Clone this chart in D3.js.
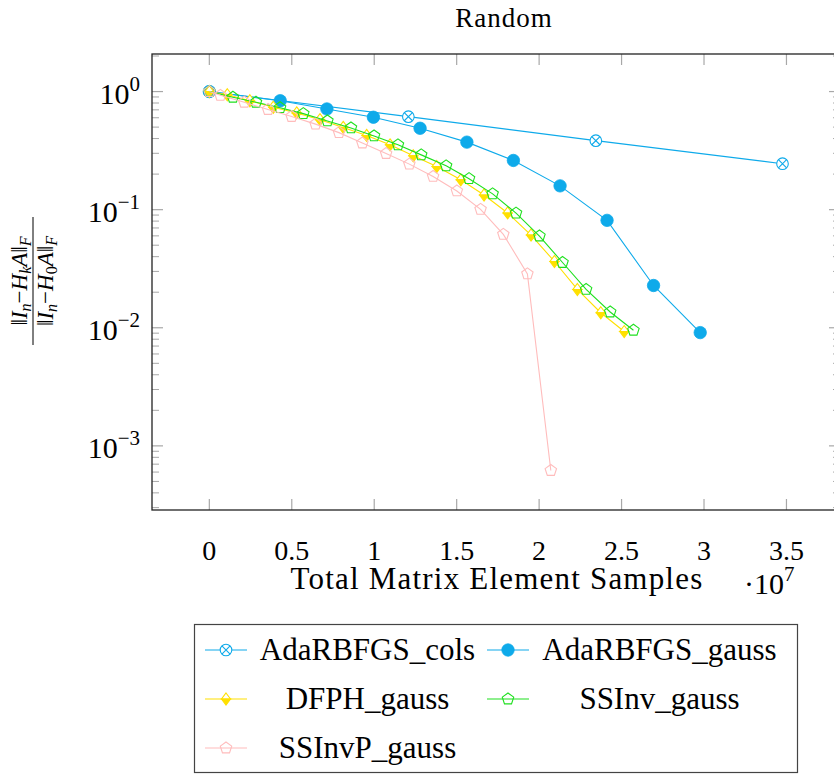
<!DOCTYPE html>
<html><head><meta charset="utf-8">
<script src="https://cdn.jsdelivr.net/npm/d3@7"></script>
<style>
body{margin:0;background:#fff}
svg{display:block}
text{font-family:'Liberation Serif','Times New Roman',serif;fill:#000}
</style>
</head><body>
<svg id="chart" width="834" height="775"></svg>
<script>
// ---------- data ----------
const chartTitle = "Random";
const xAxisLabel = "Total Matrix Element Samples";
const xTickValues = [0, 0.5, 1, 1.5, 2, 2.5, 3, 3.5];
const xTickLabels = ["0", "0.5", "1", "1.5", "2", "2.5", "3", "3.5"];
const yTickExponents = [0, -1, -2, -3];
const seriesNames = ["AdaRBFGS_cols", "AdaRBFGS_gauss", "DFPH_gauss", "SSInv_gauss", "SSInvP_gauss"];

const adaColsX = [0, 1.207, 2.344, 3.476];
const adaColsY = [1.0, 0.613, 0.384, 0.245];

const adaGaussX = [0, 0.430, 0.713, 0.995, 1.278, 1.562, 1.844, 2.127, 2.412, 2.694, 2.977];
const adaGaussY = [1.0, 0.836, 0.712, 0.606, 0.489, 0.373, 0.261, 0.159, 0.0812, 0.0228, 0.0091];

const dfphX = [0, 0.109, 0.246, 0.388, 0.530, 0.671, 0.812, 0.954, 1.096, 1.237, 1.379, 1.525, 1.666, 1.809, 1.951, 2.093, 2.232, 2.374, 2.516];
const dfphY = [1.0, 0.94, 0.836, 0.736, 0.659, 0.578, 0.497, 0.425, 0.354, 0.286, 0.232, 0.179, 0.133, 0.0938, 0.0610, 0.0364, 0.0211, 0.0134, 0.00929];

const ssinvX = [0, 0.143, 0.283, 0.429, 0.570, 0.716, 0.859, 0.999, 1.144, 1.285, 1.436, 1.575, 1.718, 1.860, 2.002, 2.142, 2.285, 2.431, 2.572];
const ssinvY = [1.0, 0.894, 0.811, 0.730, 0.650, 0.564, 0.492, 0.421, 0.354, 0.291, 0.235, 0.183, 0.136, 0.0934, 0.0598, 0.0357, 0.0211, 0.0136, 0.00953];

const ssinvpX = [0, 0.067, 0.212, 0.356, 0.499, 0.644, 0.786, 0.928, 1.072, 1.213, 1.357, 1.501, 1.645, 1.783, 1.929, 2.071];
const ssinvpY = [1.0, 0.929, 0.812, 0.705, 0.615, 0.530, 0.449, 0.367, 0.299, 0.243, 0.191, 0.144, 0.1006, 0.0618, 0.0286, 0.000619];

// ---------- styling ----------
const colors = ["#0eaaea", "#0eaaea", "#ffe000", "#1ee01e", "#ffbcbc"];
const markers = ["otimes", "dot", "halfdiamond", "pentagon", "pentagon"];

const series = [
  {x: adaColsX, y: adaColsY},
  {x: adaGaussX, y: adaGaussY},
  {x: dfphX, y: dfphY},
  {x: ssinvX, y: ssinvY},
  {x: ssinvpX, y: ssinvpY}
].map((s, i) => ({name: seriesNames[i], color: colors[i], marker: markers[i],
  pts: s.x.map((v, j) => ({x: v, y: s.y[j]}))}));

const svg = d3.select("#chart");
const box = {left: 152, right: 840, top: 54, bottom: 510};

const x = d3.scaleLinear().domain([-0.3477, 3.8247]).range([box.left, box.right]);
const y = d3.scaleLog().domain([Math.pow(10, -3.543), Math.pow(10, 0.318)]).range([box.bottom, box.top]);

// ---------- ticks ----------
const tickColor = "#a8a8a8";
const gT = svg.append("g");
const majorLen = 11, minorLen = 7;
const [ymin, ymax] = y.domain();
const minorVals = [];
for (let e = -4; e <= 0; e++) for (let m = 2; m <= 9; m++) {
  const v = m * Math.pow(10, e);
  if (v >= ymin && v <= ymax) minorVals.push(v);
}
minorVals.forEach(v => {
  gT.append("line").attr("x1", box.left).attr("x2", box.left + minorLen).attr("y1", y(v)).attr("y2", y(v)).attr("stroke", tickColor).attr("stroke-width", 1);
  gT.append("line").attr("x1", box.right).attr("x2", box.right - minorLen).attr("y1", y(v)).attr("y2", y(v)).attr("stroke", tickColor).attr("stroke-width", 1);
});
yTickExponents.forEach(e => {
  const v = Math.pow(10, e);
  gT.append("line").attr("x1", box.left).attr("x2", box.left + majorLen).attr("y1", y(v)).attr("y2", y(v)).attr("stroke", tickColor).attr("stroke-width", 1.2);
  gT.append("line").attr("x1", box.right).attr("x2", box.right - majorLen).attr("y1", y(v)).attr("y2", y(v)).attr("stroke", tickColor).attr("stroke-width", 1.2);
  const t = svg.append("text").attr("x", 140).attr("y", y(v) + 12).attr("text-anchor", "end").style("font-size", "30px");
  t.append("tspan").text("10");
  t.append("tspan").attr("dy", -13).style("font-size", "21px").text(e === 0 ? "0" : "\u2212" + Math.abs(e));
});
xTickValues.forEach((v, i) => {
  gT.append("line").attr("x1", x(v)).attr("x2", x(v)).attr("y1", box.bottom).attr("y2", box.bottom - majorLen).attr("stroke", tickColor).attr("stroke-width", 1.2);
  gT.append("line").attr("x1", x(v)).attr("x2", x(v)).attr("y1", box.top).attr("y2", box.top + majorLen).attr("stroke", tickColor).attr("stroke-width", 1.2);
  svg.append("text").attr("x", x(v)).attr("y", 560).attr("text-anchor", "middle").style("font-size", "28px").text(xTickLabels[i]);
});

// ---------- lines & markers ----------
const line = d3.line().x(d => x(d.x)).y(d => y(d.y));
const gData = svg.append("g");

function drawMarker(g, type, color, cx, cy) {
  if (type === "otimes") {
    const r = 5.8, k = r * Math.SQRT1_2;
    g.append("circle").attr("cx", cx).attr("cy", cy).attr("r", r).attr("fill", "#fff").attr("stroke", color).attr("stroke-width", 1.1);
    g.append("path").attr("d", `M${cx - k},${cy - k}L${cx + k},${cy + k}M${cx - k},${cy + k}L${cx + k},${cy - k}`).attr("stroke", color).attr("stroke-width", 1.1);
  } else if (type === "dot") {
    g.append("circle").attr("cx", cx).attr("cy", cy).attr("r", 6.2).attr("fill", color).attr("stroke", color).attr("stroke-width", 0.8);
  } else if (type === "halfdiamond") {
    const w = 4.5, h = 6;
    g.append("path").attr("d", `M${cx},${cy - h}L${cx + w},${cy}L${cx - w},${cy}Z`).attr("fill", "#fff").attr("stroke", color).attr("stroke-width", 1.1);
    g.append("path").attr("d", `M${cx - w},${cy}L${cx + w},${cy}L${cx},${cy + h}Z`).attr("fill", color).attr("stroke", color).attr("stroke-width", 1.1);
  } else if (type === "pentagon") {
    const r = 6;
    const pts = d3.range(5).map(i => {
      const a = -Math.PI / 2 + i * 2 * Math.PI / 5;
      return [cx + r * Math.cos(a), cy + r * Math.sin(a)];
    });
    g.append("path").attr("d", "M" + pts.join("L") + "Z").attr("fill", "none").attr("stroke", color).attr("stroke-width", 1.1);
  }
}

series.forEach(s => {
  const g = gData.append("g");
  g.append("path").datum(s.pts).attr("d", line).attr("fill", "none").attr("stroke", s.color).attr("stroke-width", 1.1);
  s.pts.forEach(p => drawMarker(g, s.marker, s.color, x(p.x), y(p.y)));
});

// ---------- frame ----------
svg.append("rect").attr("x", box.left).attr("y", box.top).attr("width", box.right - box.left).attr("height", box.bottom - box.top)
  .attr("fill", "none").attr("stroke", "#222").attr("stroke-width", 1.3);

// ---------- title & axis labels ----------
svg.append("text").attr("x", 504).attr("y", 27).attr("text-anchor", "middle").style("font-size", "27px").style("letter-spacing", "1px").text(chartTitle);
svg.append("text").attr("x", 497).attr("y", 589).attr("text-anchor", "middle").style("font-size", "31px").style("letter-spacing", "1.2px").text(xAxisLabel);
const sc = svg.append("text").attr("x", 744).attr("y", 594).style("font-size", "30px");
sc.append("tspan").text("\u00b710");
sc.append("tspan").attr("dy", -13).style("font-size", "21px").text("7");

// y label: fraction, rotated
const yl = svg.append("g").attr("transform", "translate(33,281) rotate(-90)");
function normExpr(g, yPos, sub) {
  const t = g.append("text").attr("x", 0).attr("y", yPos).attr("text-anchor", "middle").style("font-size", "23px");
  t.append("tspan").text("\u2016");
  t.append("tspan").style("font-style", "italic").text("I");
  t.append("tspan").style("font-style", "italic").style("font-size", "16px").attr("dy", 4).text("n");
  t.append("tspan").attr("dy", -4).text("\u2212");
  t.append("tspan").style("font-style", "italic").text("H");
  t.append("tspan").style("font-style", sub === "0" ? "normal" : "italic").style("font-size", "16px").attr("dy", 4).text(sub);
  t.append("tspan").attr("dy", -4).style("font-style", "italic").text("A");
  t.append("tspan").text("\u2016");
  t.append("tspan").style("font-style", "italic").style("font-size", "16px").attr("dy", 4).text("F");
}
normExpr(yl, -6, "k");
normExpr(yl, 20, "0");
yl.append("line").attr("x1", -64).attr("x2", 64).attr("y1", 0).attr("y2", 0).attr("stroke", "#000").attr("stroke-width", 1);

// ---------- legend ----------
const lg = svg.append("g");
lg.append("rect").attr("x", 194.5).attr("y", 624.5).attr("width", 603).attr("height", 148).attr("fill", "#fff").attr("stroke", "#444").attr("stroke-width", 1.2);
const colSample = [205, 487];
const colText = [[255, 480], [537, 782]];
const rowY = [650, 699, 748];
series.forEach((s, i) => {
  const c = i % 2, r = Math.floor(i / 2);
  const yy = rowY[r];
  lg.append("line").attr("x1", colSample[c]).attr("x2", colSample[c] + 42).attr("y1", yy).attr("y2", yy).attr("stroke", s.color).attr("stroke-width", 1.1);
  drawMarker(lg, s.marker, s.color, colSample[c] + 21, yy);
  lg.append("text").attr("x", (colText[c][0] + colText[c][1]) / 2).attr("y", yy + 10).attr("text-anchor", "middle").style("font-size", "31px").text(s.name);
});
</script>
</body></html>
